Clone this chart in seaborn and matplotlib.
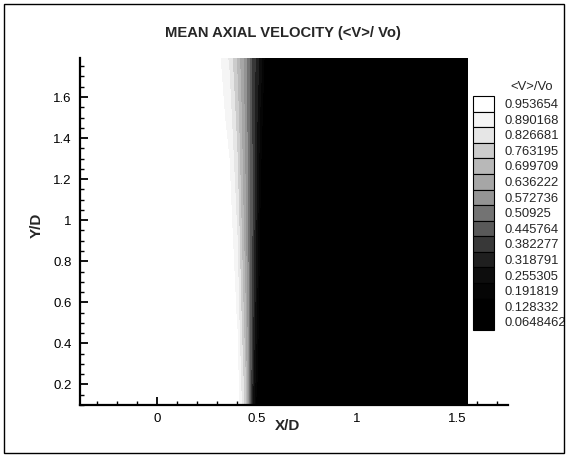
import numpy as np
import matplotlib
matplotlib.use("Agg")
import matplotlib.pyplot as plt
import seaborn as sns
from matplotlib.patches import Patch, Rectangle
from matplotlib.ticker import MultipleLocator, FixedLocator

# contour levels shown in the legend
levels = [0.0648462, 0.128332, 0.191819, 0.255305, 0.318791, 0.382277, 0.445764,
          0.50925, 0.572736, 0.636222, 0.699709, 0.763195, 0.826681, 0.890168, 0.953654]
level_labels = ["0.0648462", "0.128332", "0.191819", "0.255305", "0.318791", "0.382277",
                "0.445764", "0.50925", "0.572736", "0.636222", "0.699709", "0.763195",
                "0.826681", "0.890168", "0.953654"]
# grey shade of each band (lowest band first), as seen in the legend swatches
band_grey = [0.0, 0.0, 0.0, 0.02, 0.05, 0.12, 0.22, 0.35, 0.45, 0.58, 0.65, 0.72, 0.80,
             0.90, 0.96, 1.0]

x_grid = [-0.385, 0.30, 0.36, 0.40, 0.44, 0.48, 0.52, 0.56, 1.555]
y_grid = [0.10, 0.5, 1.0, 1.5, 1.79]
v_row_010 = [1.0, 1.0, 1.0, 1.0, 0.80, 0.30, 0.05, 0.02, 0.02]
v_row_050 = [1.0, 1.0, 1.0, 0.95, 0.72, 0.38, 0.10, 0.02, 0.02]
v_row_100 = [1.0, 1.0, 0.99, 0.88, 0.65, 0.42, 0.15, 0.03, 0.02]
v_row_150 = [1.0, 0.995, 0.93, 0.80, 0.62, 0.42, 0.22, 0.04, 0.02]
v_row_179 = [1.0, 0.98, 0.88, 0.75, 0.60, 0.42, 0.28, 0.05, 0.02]

sns.set_theme(style="white")
plt.rcParams['font.family'] = ['Liberation Sans', 'DejaVu Sans']

fig = plt.figure(figsize=(5.69, 4.55), dpi=100)
ax = fig.add_axes([80/569, 1-405/455, 428/569, 347/455])
ax.set_axisbelow(False)

V = np.array([v_row_010, v_row_050, v_row_100, v_row_150, v_row_179])
X, Y = np.meshgrid(x_grid, y_grid)

bounds = [0.0] + levels + [1.0001]
grays = [(g, g, g) for g in band_grey]
ax.contourf(X, Y, V, levels=bounds, colors=grays, zorder=0.5)

for s in ['top', 'right']:
    ax.spines[s].set_visible(False)
for s in ['left', 'bottom']:
    ax.spines[s].set_linewidth(1.6)
    ax.spines[s].set_color('black')
    ax.spines[s].set_zorder(3)

ax.xaxis.set_major_locator(FixedLocator([0, 0.5, 1, 1.5]))
ax.xaxis.set_minor_locator(MultipleLocator(0.1))
ax.yaxis.set_major_locator(FixedLocator([0.2, 0.4, 0.6, 0.8, 1.0, 1.2, 1.4, 1.6]))
ax.yaxis.set_minor_locator(MultipleLocator(0.05))
ax.set_xticklabels(["0", "0.5", "1", "1.5"])
ax.set_yticklabels(["0.2", "0.4", "0.6", "0.8", "1", "1.2", "1.4", "1.6"])
ax.tick_params(which='major', direction='in', length=6, width=1.3, labelsize=9.5,
               colors='black', left=True, bottom=True, pad=6)
ax.tick_params(which='minor', direction='in', length=3, width=1.0, left=True, bottom=True,
               colors='black')
ax.set_xlim(-0.385, 1.755)
ax.set_ylim(0.10, 1.79)

fig.text(288/569, 1-426/455, "X/D", fontsize=11, fontweight='bold', ha='center', va='center')
fig.text(37/569, 1-225/455, "Y/D", fontsize=11, fontweight='bold', ha='center', va='center',
         rotation=90)
fig.text(283/569, 1-33/455, "MEAN AXIAL VELOCITY (<V>/ Vo)", fontsize=10.6, fontweight='bold',
         ha='center', va='center')

# legend with stacked swatches (highest level at the top)
fig.text(532/569, 1-87/455, "<V>/Vo", fontsize=9.4, ha='center', va='center')
handles = [Patch(facecolor=grays[i + 1], edgecolor='black', linewidth=0.8)
           for i in range(len(levels))][::-1]
leg = ax.legend(handles, level_labels[::-1], frameon=False,
                loc='upper left', bbox_to_anchor=(473/569, 1-96/455),
                bbox_transform=fig.transFigure, fontsize=9.4,
                handlelength=1.6, handleheight=1.46, labelspacing=0, handletextpad=0.84,
                borderaxespad=0, borderpad=0)

# frame around the whole picture
fig.patches.append(Rectangle((4/569, 2/455), 560/569, 449/455, transform=fig.transFigure,
                             fill=False, edgecolor='black', linewidth=1.0))

fig.savefig("out.png", dpi=100)
